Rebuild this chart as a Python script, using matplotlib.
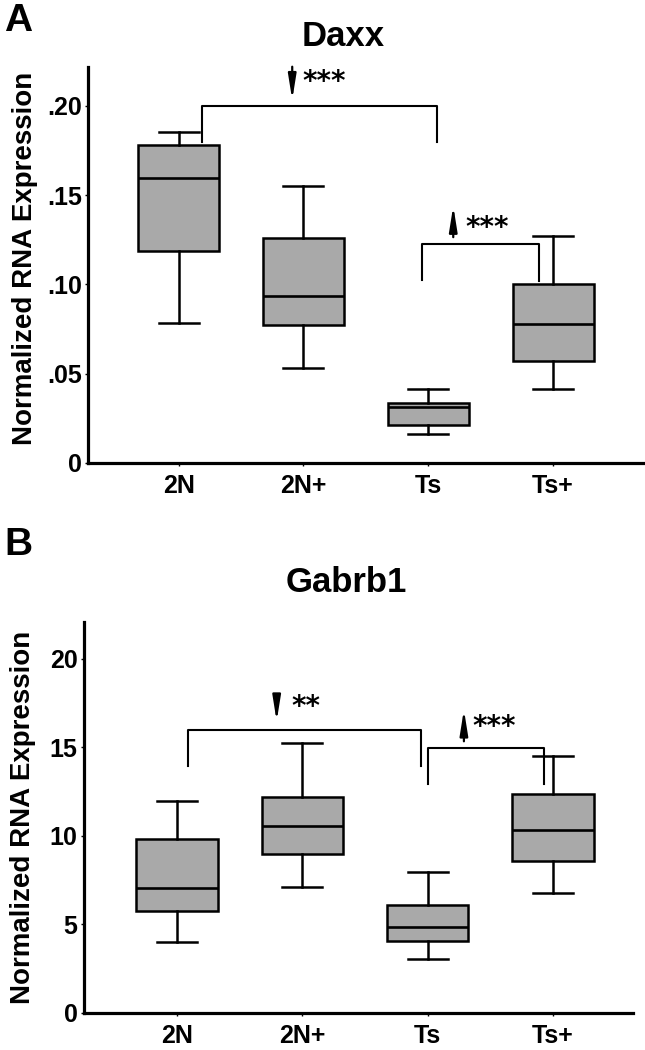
import matplotlib
matplotlib.use("Agg")
import matplotlib.pyplot as plt

plt.rcParams["font.family"] = ["Liberation Sans", "DejaVu Sans"]
plt.rcParams["font.weight"] = "bold"

groups = ["2N", "2N+", "Ts", "Ts+"]

# panel A: Daxx (whisker low, Q1, median, Q3, whisker high)
daxx_low = [0.0784, 0.0532, 0.0162, 0.0416]
daxx_q1 = [0.1188, 0.0771, 0.0215, 0.0573]
daxx_med = [0.1595, 0.0937, 0.0313, 0.0778]
daxx_q3 = [0.1780, 0.1263, 0.0336, 0.1004]
daxx_high = [0.1856, 0.1549, 0.0416, 0.1272]
daxx_ticks = [0, 0.05, 0.10, 0.15, 0.20]
daxx_ticklabels = ["0", ".05", ".10", ".15", ".20"]

# panel B: Gabrb1
gab_low = [4.02, 7.08, 3.02, 6.75]
gab_q1 = [5.75, 8.96, 4.06, 8.60]
gab_med = [7.04, 10.58, 4.87, 10.34]
gab_q3 = [9.81, 12.17, 6.06, 12.38]
gab_high = [11.98, 15.25, 7.98, 14.49]
gab_ticks = [0, 5, 10, 15, 20]
gab_ticklabels = ["0", "5", "10", "15", "20"]

# significance brackets: (x left, x right, y top, left leg end, right leg end)
daxx_brackets = [(0.19, 2.07, 0.200, 0.180, 0.180),
                 (1.95, 2.89, 0.1226, 0.1026, 0.102)]
daxx_arrows = [(0.91, 0.222, 0.2034), (2.20, 0.1265, 0.144)]
daxx_stars = [(0.99, 0.2133, "***"), (2.30, 0.1315, "***")]

gab_brackets = [(0.09, 1.95, 16.0, 13.96, 13.96),
                (2.0, 2.93, 14.94, 12.92, 12.92)]
gab_arrows = [(0.795, 17.7, 16.47), (2.29, 15.34, 17.13)]
gab_stars = [(0.91, 17.3, "**"), (2.36, 16.15, "***")]

W, H = 645, 1050
fig = plt.figure(figsize=(W / 100, H / 100), dpi=100)


def draw_panel(rect, xlim, ylim, low, q1, med, q3, high, ticks, ticklabels,
               brackets, arrows, stars):
    ax = fig.add_axes(rect)
    stats = []
    for i, g in enumerate(groups):
        stats.append(dict(label=g, whislo=low[i], q1=q1[i], med=med[i],
                          q3=q3[i], whishi=high[i], fliers=[]))
    ax.bxp(stats, positions=range(len(groups)), widths=0.65,
           capwidths=0.32, patch_artist=True, showfliers=False,
           boxprops=dict(facecolor="#a9a9a9", edgecolor="black", linewidth=1.8),
           medianprops=dict(color="black", linewidth=1.9),
           whiskerprops=dict(color="black", linewidth=1.8),
           capprops=dict(color="black", linewidth=1.8))
    ax.set_xlim(*xlim)
    ax.set_ylim(*ylim)
    ax.set_yticks(ticks)
    ax.set_yticklabels(ticklabels)
    ax.set_xticks(range(len(groups)))
    ax.set_xticklabels(groups)
    for s in ["top", "right"]:
        ax.spines[s].set_visible(False)
    for s in ["left", "bottom"]:
        ax.spines[s].set_linewidth(2.3)
    ax.tick_params(axis="both", length=2, width=1, labelsize=18)
    ax.tick_params(axis="y", pad=2.5)
    ax.tick_params(axis="x", pad=6)

    for xl, xr, yt, yl, yr in brackets:
        ax.plot([xl, xl, xr, xr], [yl, yt, yt, yr], color="black", lw=1.5,
                clip_on=False)
    for x, y0, y1 in arrows:
        ax.annotate("", xy=(x, y1), xytext=(x, y0),
                    arrowprops=dict(arrowstyle="-|>,head_length=1.5,head_width=0.24",
                                    mutation_scale=10, color="black", lw=1.6,
                                    shrinkA=0, shrinkB=0),
                    annotation_clip=False)
    for x, y, txt in stars:
        ax.text(x, y, txt, ha="left", va="center", fontsize=20,
                fontweight="bold", family="DejaVu Sans")
    return ax


# panel A
draw_panel([88 / W, 1 - 463 / H, (643 - 88) / W, (463 - 66.7) / H],
           (-0.726, 3.72), (0, 0.222),
           daxx_low, daxx_q1, daxx_med, daxx_q3, daxx_high,
           daxx_ticks, daxx_ticklabels, daxx_brackets, daxx_arrows, daxx_stars)

# panel B
draw_panel([83.9 / W, 1 - 1012.7 / H, (632.5 - 83.9) / W, (1012.7 - 621.7) / H],
           (-0.744, 3.636), (0, 22.1),
           gab_low, gab_q1, gab_med, gab_q3, gab_high,
           gab_ticks, gab_ticklabels, gab_brackets, gab_arrows, gab_stars)

fig.text(343 / W, 1 - 37 / H, "Daxx", ha="center", va="center", fontsize=25,
         fontweight="bold")
fig.text(346 / W, 1 - 582 / H, "Gabrb1", ha="center", va="center",
         fontsize=25, fontweight="bold")
fig.text(4 / W, 1 - 21 / H, "A", ha="left", va="center", fontsize=28,
         fontweight="bold")
fig.text(4 / W, 1 - 545 / H, "B", ha="left", va="center", fontsize=28,
         fontweight="bold")
fig.text(25 / W, 1 - 258 / H, "Normalized RNA Expression", rotation=90,
         ha="center", va="center", fontsize=20, fontweight="bold")
fig.text(23 / W, 1 - 817 / H, "Normalized RNA Expression", rotation=90,
         ha="center", va="center", fontsize=20, fontweight="bold")

fig.savefig("out.png", dpi=100)
